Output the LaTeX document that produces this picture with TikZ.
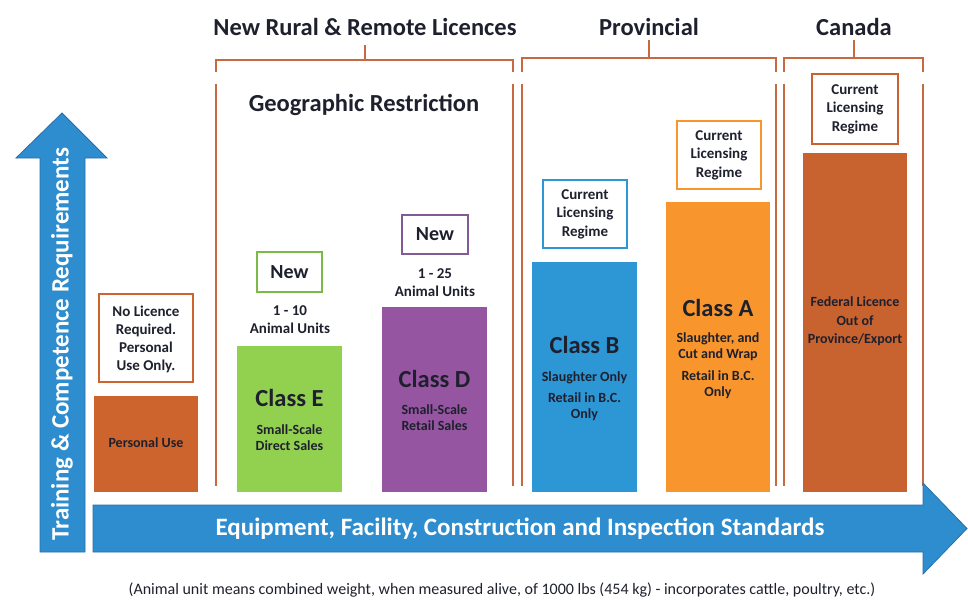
\documentclass[tikz,border=0pt]{standalone}
\usepackage{fontspec}
\setmainfont{Carlito}
\usetikzlibrary{positioning}
\definecolor{arrowblue}{RGB}{46,141,206}
\definecolor{arrowedge}{RGB}{40,110,170}
\definecolor{rust}{RGB}{205,100,45}
\definecolor{fedrust}{RGB}{200,98,47}
\definecolor{classgreen}{RGB}{146,208,80}
\definecolor{greenedge}{RGB}{125,185,70}
\definecolor{classpurple}{RGB}{150,85,160}
\definecolor{purpleedge}{RGB}{130,90,150}
\definecolor{classblue}{RGB}{45,150,213}
\definecolor{classorange}{RGB}{248,150,45}
\definecolor{bracketcol}{RGB}{200,105,65}
\definecolor{ink}{RGB}{30,32,45}
\tikzstyle{bracket}=[draw=bracketcol,line width=2.5pt]
\tikzstyle{bar}=[rectangle,inner sep=0pt]
\tikzstyle{tagbox}=[rectangle,draw,line width=2.2pt,fill=white,inner sep=0pt]
\tikzstyle{heading}=[text=ink,font=\bfseries\fontsize{24.5}{28}\selectfont]
\tikzstyle{newtext}=[text=ink,font=\bfseries\fontsize{20}{22}\selectfont]
\tikzstyle{classname}=[text=ink,font=\bfseries\fontsize{24.5}{28}\selectfont]
\tikzstyle{smalltext}=[text=ink,align=center,font=\bfseries\fontsize{14}{16}\selectfont]
\tikzstyle{tagtext}=[text=ink,align=center,font=\bfseries\fontsize{15}{18.5}\selectfont]
\tikzstyle{units}=[text=ink,align=center,font=\bfseries\fontsize{15}{18}\selectfont]
\tikzstyle{arrowtext}=[text=white,font=\bfseries\fontsize{25}{28}\selectfont]

\begin{document}
\begin{tikzpicture}[x=1pt,y=-1pt]
\useasboundingbox (0,0) rectangle (968,599);

% headings and brackets
\node[heading] (rural) at (365,27) {New Rural \& Remote Licences};
\node[heading] (provincial) at (649,27) {Provincial};
\node[heading] (canada) at (854,27) {Canada};
\draw[bracket] (216,72) -- (216,60) -- (513,60) -- (513,72);
\draw[bracket] (365,60) -- (365,45);
\draw[bracket] (522,72) -- (522,58) -- (776,58) -- (776,72);
\draw[bracket] (649,58) -- (649,40);
\draw[bracket] (784,72) -- (784,58) -- (923,58) -- (923,72);
\draw[bracket] (854,58) -- (854,40);
\foreach \x in {216,513,522,776,784,923}{
\draw[bracket] (\x,84) -- (\x,486);
}
\node[heading] (geo) at (364,105) {Geographic Restriction};

% personal use
\node[bar,fill=rust,minimum width=104pt,minimum height=96pt] (personal) at (146,444) {};
\node[smalltext] (personaltxt) at (146,443) {Personal Use};
\node[tagbox,draw=rust,minimum width=94pt,minimum height=88pt] (nolicence) at (146,338) {};
\node[units] (nolicencetxt) at (146,339) {No Licence\\Required.\\Personal\\Use Only.};

% class E
\node[bar,fill=classgreen,minimum width=105pt,minimum height=146pt] (classE) at (289.5,419) {};
\node[classname] (classEname) at (289.5,398) {Class E};
\node[smalltext] (classEtxt) at (289.5,438) {Small-Scale\\Direct Sales};
\node[units] (unitsE) at (290,320) {1 - 10\\Animal Units};
\node[tagbox,draw=greenedge,minimum width=65pt,minimum height=40pt] (newE) at (289.5,272) {};
\node[newtext] (newEtxt) at (289.5,272) {New};

% class D
\node[bar,fill=classpurple,minimum width=105pt,minimum height=185pt] (classD) at (434.5,399.5) {};
\node[classname] (classDname) at (434.5,379) {Class D};
\node[smalltext] (classDtxt) at (434.5,418) {Small-Scale\\Retail Sales};
\node[units] (unitsD) at (435,282.5) {1 - 25\\Animal Units};
\node[tagbox,draw=purpleedge,minimum width=66pt,minimum height=39pt] (newD) at (435,234.5) {};
\node[newtext] (newDtxt) at (435,234.5) {New};

% class B
\node[bar,fill=classblue,minimum width=105pt,minimum height=230pt] (classB) at (584.5,377) {};
\node[classname] (classBname) at (584.5,345) {Class B};
\node[smalltext] (classBtxt) at (584.5,396) {Slaughter Only\\[5pt]Retail in B.C.\\Only};
\node[tagbox,draw=classblue,minimum width=84pt,minimum height=68pt] (regimeB) at (585,214) {};
\node[tagtext] (regimeBtxt) at (585,214) {Current\\Licensing\\Regime};

% class A
\node[bar,fill=classorange,minimum width=104pt,minimum height=290pt] (classA) at (718,347) {};
\node[classname] (classAname) at (718,308) {Class A};
\node[smalltext] (classAtxt) at (718,366) {Slaughter, and\\Cut and Wrap\\[6pt]Retail in B.C.\\Only};
\node[tagbox,draw=classorange,minimum width=84pt,minimum height=68pt] (regimeA) at (719,155) {};
\node[tagtext] (regimeAtxt) at (719,155) {Current\\Licensing\\Regime};

% federal
\node[bar,fill=fedrust,minimum width=104pt,minimum height=339pt] (federal) at (855,322.5) {};
\node[smalltext,font=\bfseries\fontsize{14}{18.5}\selectfont] (federaltxt) at (855,321.5) {Federal Licence\\Out of\\Province/Export};
\node[tagbox,draw=fedrust,minimum width=86pt,minimum height=70pt] (regimeF) at (855,109) {};
\node[tagtext] (regimeFtxt) at (855,109) {Current\\Licensing\\Regime};

% axes
\filldraw[fill=arrowblue,draw=arrowedge,line width=0.8pt] (40,552) -- (85,552) -- (85,158) -- (107,158) -- (62,113) -- (16,158) -- (40,158) -- cycle;
\node[arrowtext,rotate=90] (training) at (62,344) {Training \& Competence Requirements};
\filldraw[fill=arrowblue,draw=arrowedge,line width=0.8pt] (93,505) -- (923,505) -- (923,483) -- (967,528.5) -- (923,574) -- (923,552) -- (93,552) -- cycle;
\node[arrowtext] (equipment) at (520,529) {Equipment, Facility, Construction and Inspection Standards};

\node[text=ink,font=\fontsize{16}{18}\selectfont] (note) at (502,590) {(Animal unit means combined weight, when measured alive, of 1000 lbs (454 kg) - incorporates cattle, poultry, etc.)};
\end{tikzpicture}
\end{document}
